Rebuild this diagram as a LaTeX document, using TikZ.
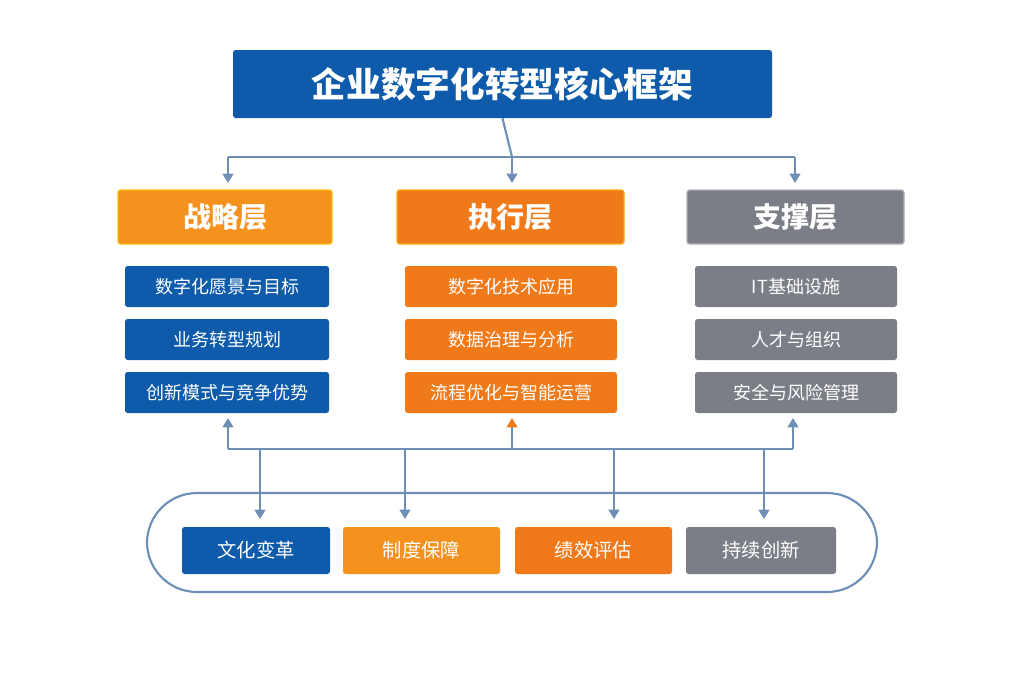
\documentclass[tikz,border=0pt]{standalone}
\usepackage{fontspec}
\setmainfont{Noto Sans CJK SC}
\usetikzlibrary{arrows.meta}
\definecolor{bl}{HTML}{0D5BAA}
\definecolor{or1}{HTML}{F5921E}
\definecolor{or2}{HTML}{F07A1A}
\definecolor{gr}{HTML}{7B7E86}
\definecolor{ln}{HTML}{6E8FB5}
\begin{document}
\begin{tikzpicture}[x=0.75pt,y=-0.75pt,
 box/.style={draw=none,rounded corners=2pt,minimum width=#1*0.75pt,text=white,inner sep=0pt},
 hdr/.style={box=#1,minimum height=54*0.75pt,font=\bfseries\fontsize{21}{24}\selectfont},
 sub/.style={box=#1,minimum height=41*0.75pt,font=\fontsize{13.5}{16}\selectfont},
 bot/.style={box=#1,minimum height=47*0.75pt,font=\fontsize{14.5}{17}\selectfont},
 con/.style={ln,line width=1.6pt,-{Triangle[length=7pt,width=8pt]}}]
\useasboundingbox (0,0) rectangle (1024,683);
\fill[white] (0,0) rectangle (1024,683);
\node[box=539,minimum height=68*0.75pt,fill=bl,font=\bfseries\fontsize{26}{30}\selectfont] (t) at (502.5,84) {企业数字化转型核心框架};
\node[hdr=214,fill=or1,draw=or1!60!yellow,line width=1pt] (h1) at (225,217) {战略层};
\node[hdr=227,fill=or2,draw=or2!60!yellow,line width=1pt] (h2) at (510.5,217) {执行层};
\node[hdr=217,fill=gr,draw=gr!60!white,line width=1pt] (h3) at (795.5,217) {支撑层};
\node[sub=204,fill=bl] (s11) at (227,286.5) {数字化愿景与目标};
\node[sub=204,fill=bl] (s12) at (227,339.5) {业务转型规划};
\node[sub=204,fill=bl] (s13) at (227,392.5) {创新模式与竞争优势};
\node[sub=212,fill=or2] (s21) at (511,286.5) {数字化技术应用};
\node[sub=212,fill=or2] (s22) at (511,339.5) {数据治理与分析};
\node[sub=212,fill=or2] (s23) at (511,392.5) {流程优化与智能运营};
\node[sub=202,fill=gr] (s31) at (796,286.5) {IT基础设施};
\node[sub=202,fill=gr] (s32) at (796,339.5) {人才与组织};
\node[sub=202,fill=gr] (s33) at (796,392.5) {安全与风险管理};
\node[draw=ln,line width=1.6pt,rounded corners=50*0.75pt,minimum width=730*0.75pt,minimum height=99*0.75pt] (pill) at (512,542.5) {};
\node[bot=148,fill=bl] (b1) at (256,550.5) {文化变革};
\node[bot=157,fill=or1] (b2) at (421.5,550.5) {制度保障};
\node[bot=157,fill=or2] (b3) at (593.5,550.5) {绩效评估};
\node[bot=150,fill=gr] (b4) at (761,550.5) {持续创新};
\coordinate (jt) at (512,157);
\coordinate (jb) at (512,449);
\draw[ln,line width=1.6pt] (t.south) -- (jt);
\draw[ln,line width=1.6pt] (228,157) -- (795,157);
\draw[con] (228,157) -- (228,183);
\draw[con] (jt) -- (512,183);
\draw[con] (795,157) -- (795,183);
\draw[ln,line width=1.6pt] (228,449) -- (793,449);
\draw[con] (228,449) -- (228,418);
\draw[con,-{Triangle[length=7pt,width=8pt,color=or2]}] (jb) -- (512,418);
\draw[con] (793,449) -- (793,418);
\foreach \x in {260,405,614,764}
 \draw[con] (\x,449) -- (\x,519);
\end{tikzpicture}
\end{document}
